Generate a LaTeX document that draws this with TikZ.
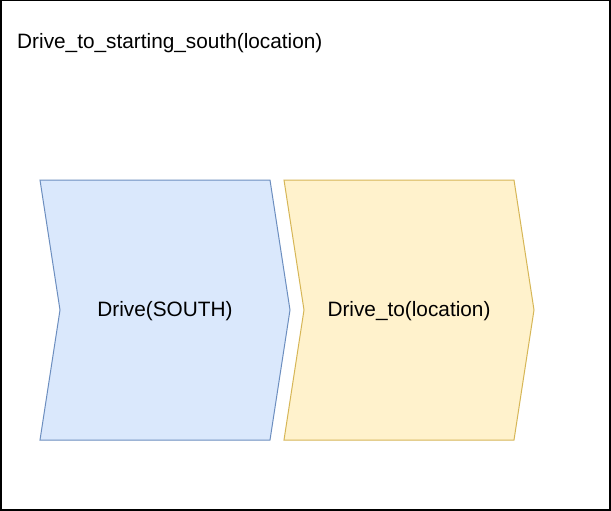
\documentclass[tikz,border=0pt]{standalone}
\usepackage{fontspec}
\setmainfont{Liberation Sans}
\definecolor{bluefill}{HTML}{DAE8FC}
\definecolor{bluedraw}{HTML}{6C8EBF}
\definecolor{yelfill}{HTML}{FFF2CC}
\definecolor{yeldraw}{HTML}{D6B656}
\tikzset{
  lbl/.style={font=\fontsize{20.8}{24}\selectfont, inner sep=0pt},
  chevblue/.style={fill=bluefill, draw=bluedraw, line width=1pt, line join=miter},
  chevyel/.style={fill=yelfill, draw=yeldraw, line width=1pt, line join=miter},
}
\begin{document}
\begin{tikzpicture}[x=1pt,y=-1pt]
\useasboundingbox (0,0) rectangle (611,511);
\draw[line width=1.5pt] (0.75,0.75) rectangle (609.75,509.75);
\node[lbl, anchor=base west] (title) at (17,49) {Drive\_to\_starting\_south(location)};
\draw[chevblue] (40,180) -- (270,180) -- (290,310) -- (270,440) -- (40,440) -- (60,310) -- cycle;
\draw[chevyel] (284,180) -- (514,180) -- (534,310) -- (514,440) -- (284,440) -- (304,310) -- cycle;
\node[lbl] (a) at (165,311.5) {Drive(SOUTH)};
\node[lbl] (b) at (409,311.5) {Drive\_to(location)};
\end{tikzpicture}
\end{document}
